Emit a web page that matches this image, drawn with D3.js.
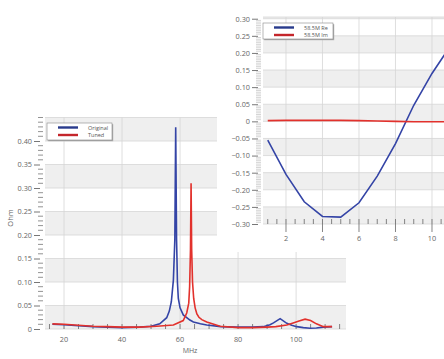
<!DOCTYPE html>
<html><head><meta charset="utf-8">
<script src="https://cdn.jsdelivr.net/npm/d3@7"></script>
<style>body{margin:0;background:#fff} text{font-family:"Open Sans","Noto Sans",sans-serif}</style>
</head><body><svg id="c" width="444" height="359"></svg>
<script>
// ---- main chart data (MHz, Ohm) ----
const originalMHz = [16,20,25,30,35,40,46,50,53,55.4,56.3,57.0,57.7,58.2,58.5,58.8,59.1,59.4,60.0,61.1,63.4,64.6,67,69.2,74,79.5,85,88.7,91,92.2,94.5,96.8,98.5,100.2,102.5,104.8,107,109.4,112.4];
const originalOhm = [0.010,0.009,0.007,0.005,0.004,0.003,0.004,0.006,0.011,0.024,0.038,0.058,0.104,0.19,0.429,0.19,0.10,0.065,0.045,0.030,0.019,0.015,0.011,0.0085,0.005,0.004,0.004,0.005,0.009,0.013,0.022,0.012,0.008,0.005,0.003,0.0015,0.002,0.004,0.005];
const tunedMHz = [16,20,25,30,35,40,46,52,57.7,61.1,62.3,63.0,63.3,63.6,63.8,64.0,64.3,64.7,65.2,65.8,66.5,67.5,69.2,73.8,80,85,90,93,96.8,99,101,103.1,105,107,109.4,112.4];
const tunedOhm = [0.011,0.010,0.008,0.006,0.005,0.004,0.004,0.006,0.0085,0.018,0.034,0.055,0.09,0.17,0.31,0.17,0.10,0.065,0.045,0.032,0.025,0.020,0.015,0.006,0.003,0.003,0.004,0.005,0.0085,0.013,0.017,0.021,0.018,0.011,0.005,0.005];
const mainSeries = ["Original","Tuned"];
const mainXTicks = [20,40,60,80,100];
const mainYTicks = [0,0.05,0.10,0.15,0.20,0.25,0.30,0.35,0.40];

// ---- inset chart data ----
const insetX = [1,2,3,4,5,6,7,8,9,10,11];
const insetRe = [-0.055,-0.155,-0.235,-0.278,-0.280,-0.238,-0.16,-0.065,0.047,0.14,0.22];
const insetIm = [0.002,0.003,0.003,0.003,0.003,0.002,0.001,0.000,-0.001,-0.001,-0.001];
const insetSeries = ["58.5M Re","58.5M Im"];
const insetXTicks = [2,4,6,8,10];
const insetYTicks = [-0.30,-0.25,-0.20,-0.15,-0.10,-0.05,0,0.05,0.10,0.15,0.20,0.25,0.30];

const BLUE = "#3444a6", RED = "#e2312c", LBLUE = "#283a8c", LRED = "#c4262b";
const GREY = "#efefef", GRID = "#d6d6d6", TXT = "#666";
const fmt = d => d === 0 ? "0" : d3.format(".2f")(d);

const svg = d3.select("#c");

function panel(g, x, y, xTicks, yTicks, xMinor, yMinor, opts) {
  const [x0, x1] = x.range(), [yb, yt] = y.range();
  const bands = yTicks.map((t, i) => [t, i + 1 < yTicks.length ? yTicks[i + 1] : y.domain()[1]]).filter((d, i) => i % 2 === 0);
  g.selectAll(null).data(bands).join("rect")
    .attr("x", x0).attr("width", x1 - x0)
    .attr("y", d => y(d[1])).attr("height", d => y(d[0]) - y(d[1]))
    .attr("fill", GREY);
  g.selectAll(null).data(yTicks.concat([y.domain()[1]])).join("line")
    .attr("x1", x0).attr("x2", x1).attr("y1", d => y(d)).attr("y2", d => y(d))
    .attr("stroke", GRID).attr("stroke-width", 0.8);
  g.selectAll(null).data(xTicks).join("line")
    .attr("x1", d => x(d)).attr("x2", d => x(d)).attr("y1", yb).attr("y2", yt)
    .attr("stroke", GRID).attr("stroke-width", 0.8);
  const ya = g.append("g").attr("transform", `translate(${opts.yAxisX},0)`)
    .call(d3.axisLeft(y).tickValues(yTicks).tickSize(6).tickPadding(2).tickFormat(fmt));
  ya.select(".domain").remove();
  ya.selectAll("line").attr("stroke", "#777");
  ya.selectAll("text").attr("fill", TXT).style("font-size", "7.3px");
  g.selectAll(null).data(yMinor).join("line")
    .attr("x1", opts.yAxisX - 2).attr("x2", opts.yAxisX + 3)
    .attr("y1", d => y(d)).attr("y2", d => y(d))
    .attr("stroke", opts.minorColor).attr("stroke-width", opts.minorWidth);
  g.selectAll(null).data(xMinor).join("line")
    .attr("x1", d => x(d)).attr("x2", d => x(d))
    .attr("y1", opts.xAxisY - 5).attr("y2", opts.xAxisY)
    .attr("stroke", "#666").attr("stroke-width", 0.8);
  g.selectAll(null).data(xTicks).join("line")
    .attr("x1", d => x(d)).attr("x2", d => x(d))
    .attr("y1", opts.xAxisY - 5).attr("y2", opts.xAxisY + opts.majorDown)
    .attr("stroke", "#666").attr("stroke-width", 0.8);
  g.selectAll(null).data(xTicks).join("text")
    .attr("x", d => x(d)).attr("y", opts.xLabelY)
    .attr("text-anchor", "middle").attr("fill", TXT).style("font-size", "7.3px")
    .text(d => d);
}

function legend(g, x, y, w, h, names, colors) {
  g.append("rect").attr("x", x + 1.2).attr("y", y + 1.2).attr("width", w).attr("height", h).attr("fill", "#aaa");
  g.append("rect").attr("x", x).attr("y", y).attr("width", w).attr("height", h).attr("fill", "#fff").attr("stroke", "#888").attr("stroke-width", 0.6);
  names.forEach((n, i) => {
    const ly = y + 4.5 + i * 7.5;
    g.append("line").attr("x1", x + 11).attr("x2", x + 31).attr("y1", ly).attr("y2", ly)
      .attr("stroke", colors[i]).attr("stroke-width", 2.4);
    g.append("text").attr("x", x + 41).attr("y", ly + 2).attr("fill", "#555").style("font-size", "5.5px").text(n);
  });
}

// ---------- main chart ----------
const gm = svg.append("g");
const mx = d3.scaleLinear().domain([13.45, 117.2]).range([45, 346]);
const my = d3.scaleLinear().domain([0, 0.45]).range([329, 117.5]);
panel(gm, mx, my, mainXTicks, mainYTicks,
  mx.ticks(20).filter(d => d >= 15 && !mainXTicks.includes(d)),
  my.ticks(45).filter(d => !mainYTicks.some(t => Math.abs(t - d) < 1e-9)),
  {yAxisX: 40, xAxisY: 329, xLabelY: 342, majorDown: 0, minorColor: "#777", minorWidth: 0.8});
const mline = d3.line().x(d => mx(d[0])).y(d => my(d[1]));
gm.append("path").datum(originalMHz.map((m, i) => [m, originalOhm[i]]))
  .attr("d", mline).attr("fill", "none").attr("stroke", BLUE).attr("stroke-width", 1.6);
gm.append("path").datum(tunedMHz.map((m, i) => [m, tunedOhm[i]]))
  .attr("d", mline).attr("fill", "none").attr("stroke", RED).attr("stroke-width", 1.6);
gm.append("text").attr("x", 190).attr("y", 353).attr("text-anchor", "middle").attr("fill", TXT).style("font-size", "7px").text("MHz");
gm.append("text").attr("transform", "translate(13,218) rotate(-90)").attr("text-anchor", "middle").attr("fill", TXT).style("font-size", "7.5px").text("Ohm");
legend(gm, 47, 123, 65, 17, mainSeries, [LBLUE, LRED]);

// ---------- inset chart ----------
const gi = svg.append("g");
gi.append("rect").attr("x", 217).attr("y", 0).attr("width", 227).attr("height", 252).attr("fill", "#fff");
const ix = d3.scaleLinear().domain([0.74, 10.85]).range([263, 447.5]);
const iy = d3.scaleLinear().domain([-0.30, 0.305]).range([224, 17]);
panel(gi, ix, iy, insetXTicks, insetYTicks,
  ix.ticks(20).filter(d => d >= 1 && !insetXTicks.includes(d)),
  d3.range(-0.30, 0.3001, 0.005).filter(d => !insetYTicks.some(t => Math.abs(t - d) < 1e-9)),
  {yAxisX: 258, xAxisY: 224, xLabelY: 241, majorDown: 8, minorColor: "#aaa", minorWidth: 0.5});
const iline = d3.line().x(d => ix(d[0])).y(d => iy(d[1]));
gi.append("path").datum(insetX.map((v, i) => [v, insetRe[i]]))
  .attr("d", iline).attr("fill", "none").attr("stroke", BLUE).attr("stroke-width", 1.6);
gi.append("path").datum(insetX.map((v, i) => [v, insetIm[i]]))
  .attr("d", iline).attr("fill", "none").attr("stroke", RED).attr("stroke-width", 1.6);
legend(gi, 263, 23, 70, 16, insetSeries, [LBLUE, LRED]);
</script>
</body></html>
